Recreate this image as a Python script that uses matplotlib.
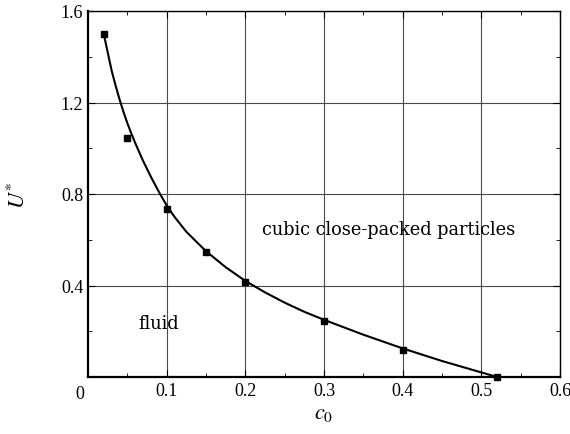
import matplotlib
matplotlib.use("Agg")
import matplotlib.pyplot as plt
from matplotlib.ticker import MultipleLocator

plt.rcParams['font.family'] = ['Liberation Serif', 'DejaVu Serif']
plt.rcParams['mathtext.fontset'] = 'stix'

# simulation points
c0_pts = [0.02, 0.05, 0.10, 0.15, 0.20, 0.30, 0.40, 0.52]
U_pts = [1.50, 1.045, 0.734, 0.546, 0.415, 0.245, 0.118, 0.0]

# fitted curve
c0_curve = [0.02, 0.025, 0.03, 0.035, 0.04, 0.045, 0.05, 0.055, 0.06, 0.07, 0.08, 0.09,
            0.10, 0.11, 0.125, 0.15, 0.175, 0.20, 0.225, 0.25, 0.275, 0.30, 0.35,
            0.40, 0.45, 0.50, 0.52]
U_curve = [1.50, 1.42, 1.34, 1.275, 1.215, 1.16, 1.11, 1.065, 1.023, 0.945, 0.875, 0.81,
           0.75, 0.70, 0.635, 0.55, 0.48, 0.42, 0.37, 0.325, 0.285, 0.25, 0.185,
           0.125, 0.07, 0.02, 0.0]

fig = plt.figure(figsize=(5.7, 4.35), dpi=100)
ax = fig.add_axes([88/570, 57/435, 472/570, 366/435])

ax.plot(c0_curve, U_curve, color='black', lw=1.5, zorder=3)
ax.plot(c0_pts, U_pts, 's', color='black', ms=5, zorder=4, clip_on=False)

ax.set_xlim(0, 0.6)
ax.set_ylim(0, 1.6)
ax.xaxis.set_minor_locator(MultipleLocator(0.05))
ax.yaxis.set_minor_locator(MultipleLocator(0.2))
ax.grid(True, which='major', color='#4a4a4a', lw=0.8)
ax.tick_params(which='both', direction='in', top=True, right=True, labelsize=13)
ax.tick_params(which='major', length=5)
ax.tick_params(which='minor', length=3)

xt = [0.1, 0.2, 0.3, 0.4, 0.5, 0.6]
ax.set_xticks(xt)
ax.set_xticklabels(['0.1', '0.2', '0.3', '0.4', '0.5', '0.6'])
yt = [0.4, 0.8, 1.2, 1.6]
ax.set_yticks(yt)
ax.set_yticklabels(['0.4', '0.8', '1.2', '1.6'])
ax.text(-0.011, -0.035, '0', ha='center', va='top', fontsize=13)

for s in ax.spines.values():
    s.set_linewidth(1.0)
ax.spines['left'].set_linewidth(1.6)
ax.spines['bottom'].set_linewidth(1.6)

ax.set_xlabel(r'$c_0$', fontsize=16, labelpad=4)
ax.set_ylabel(r'$U^{*}$', fontsize=16, labelpad=22)

ax.text(0.221, 0.647, 'cubic close-packed particles', fontsize=12.8, va='center',
        family=['DejaVu Serif'])
ax.text(0.064, 0.236, 'fluid', fontsize=12.8, va='center', family=['DejaVu Serif'])

fig.savefig('out.png', dpi=100)
